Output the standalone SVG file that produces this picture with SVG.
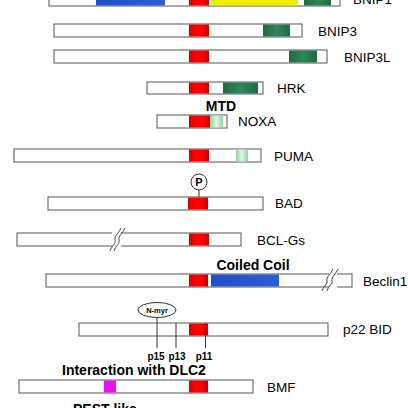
<svg xmlns="http://www.w3.org/2000/svg" width="408" height="408" viewBox="0 0 408 408">
<defs>
<linearGradient id="gRed" x1="0" x2="1" y1="0" y2="0"><stop offset="0" stop-color="#d40000"/><stop offset="0.3" stop-color="#ff0000"/><stop offset="0.7" stop-color="#ff0000"/><stop offset="1" stop-color="#c80000"/></linearGradient>
<linearGradient id="gGreen" x1="0" x2="1" y1="0" y2="0"><stop offset="0" stop-color="#1f6b44"/><stop offset="0.5" stop-color="#2f8558"/><stop offset="1" stop-color="#1f6b44"/></linearGradient>
<linearGradient id="gLight" x1="0" x2="1" y1="0" y2="0"><stop offset="0" stop-color="#8fd49f"/><stop offset="0.5" stop-color="#e2f7e4"/><stop offset="1" stop-color="#8fd49f"/></linearGradient>
<linearGradient id="gBlue" x1="0" x2="1" y1="0" y2="0"><stop offset="0" stop-color="#1e50c8"/><stop offset="1" stop-color="#2a5fd6"/></linearGradient>
</defs>
<style>
.bar{fill:#fff;stroke:#555;stroke-width:1}
.red{fill:url(#gRed)}
.grn{fill:url(#gGreen)}
.lgr{fill:url(#gLight)}
.blu{fill:url(#gBlue)}
.yel{fill:#eeee00}
.mag{fill:#ee10ee}
.lbl{font-family:"Liberation Sans",Arial,sans-serif;font-size:13.5px;fill:#000}
.bold{font-family:"Liberation Sans",Arial,sans-serif;font-weight:bold;font-size:14px;fill:#000}
.small{font-family:"Liberation Sans",Arial,sans-serif;font-weight:bold;font-size:10px;fill:#000}
.ln{stroke:#333;stroke-width:1;fill:none}
.brk{stroke:#444;stroke-width:1;fill:none}
</style>

<g id="BNIP1">
<rect class="bar" x="49" y="-7" width="291" height="13"/>
<rect class="blu" x="96" y="-6.5" width="69" height="12"/>
<rect class="red" x="189" y="-6.5" width="20" height="12"/>
<rect class="yel" x="211" y="-6.5" width="87" height="12"/>
<rect class="grn" x="304" y="-6.5" width="27" height="12"/>
<text class="lbl" x="353" y="4">BNIP1</text>
</g>

<g id="BNIP3">
<rect class="bar" x="54" y="24" width="248" height="13"/>
<rect class="red" x="189" y="24.5" width="20" height="12"/>
<rect class="grn" x="263" y="24.5" width="27" height="12"/>
<text class="lbl" x="318" y="35.5">BNIP3</text>
</g>

<g id="BNIP3L">
<rect class="bar" x="54" y="50" width="273" height="13"/>
<rect class="red" x="189" y="50.5" width="20" height="12"/>
<rect class="grn" x="289" y="50.5" width="28" height="12"/>
<text class="lbl" x="344" y="61.5">BNIP3L</text>
</g>

<g id="HRK">
<rect class="bar" x="147" y="82" width="116" height="12"/>
<rect class="red" x="189" y="82.5" width="20" height="11"/>
<rect class="grn" x="223" y="82.5" width="35" height="11"/>
<text class="lbl" x="277" y="92.5">HRK</text>
</g>

<g id="MTD">
<text class="bold" x="221" y="111" text-anchor="middle">MTD</text>
</g>

<g id="NOXA">
<rect class="bar" x="157" y="115" width="70" height="13"/>
<rect class="red" x="189" y="115.5" width="21" height="12"/>
<rect class="lgr" x="210" y="115.5" width="13" height="12"/>
<text class="lbl" x="238" y="126">NOXA</text>
</g>

<g id="PUMA">
<rect class="bar" x="14" y="149" width="247" height="13"/>
<rect class="red" x="189" y="149.5" width="20" height="12"/>
<rect class="lgr" x="236" y="149.5" width="12" height="12"/>
<text class="lbl" x="274" y="160.5">PUMA</text>
</g>

<g id="BAD">
<rect class="bar" x="48" y="197" width="215" height="13"/>
<rect class="red" x="188" y="197.5" width="20" height="12"/>
<line class="ln" x1="199" y1="190" x2="199" y2="197"/>
<circle cx="199" cy="182" r="8" fill="#fff" stroke="#333" stroke-width="1"/>
<text class="bold" x="199" y="186" text-anchor="middle" font-size="11px" style="font-size:11px">P</text>
<text class="lbl" x="275" y="207.5">BAD</text>
</g>

<g id="BCL-Gs">
<rect class="bar" x="17" y="233" width="224" height="13"/>
<rect class="red" x="189" y="233.5" width="20" height="12"/>
<rect x="112" y="232" width="9" height="15" fill="#fff"/>
<path class="brk" d="M110,251 C112,245 116,244 115,240 C114,236 119,233 121,228"/>
<path class="brk" d="M114,251 C116,245 120,244 119,240 C118,236 123,233 125,228"/>
<text class="lbl" x="257" y="244.5">BCL-Gs</text>
</g>

<g id="CoiledCoil">
<text class="bold" x="253" y="270" text-anchor="middle">Coiled Coil</text>
</g>

<g id="Beclin1">
<rect class="bar" x="46" y="274" width="306" height="13"/>
<rect class="red" x="189" y="274.5" width="19" height="12"/>
<rect class="blu" x="211" y="274.5" width="68" height="12"/>
<rect x="329" y="273" width="8" height="15" fill="#fff"/>
<path class="brk" d="M322,291 C324,285 328,284 327,281 C326,277 331,274 333,269"/>
<path class="brk" d="M327,291 C329,285 333,284 332,281 C331,277 336,274 338,269"/>
<text class="lbl" x="363" y="285.5">Beclin1</text>
</g>

<g id="p22BID">
<rect class="bar" x="79" y="323" width="249" height="13"/>
<rect class="red" x="189" y="323.5" width="19" height="12"/>
<ellipse cx="157" cy="310" rx="19" ry="7.5" fill="#fff" stroke="#333" stroke-width="1"/>
<text class="small" x="157" y="312.8" text-anchor="middle" style="font-size:7.5px">N-myr</text>
<text class="lbl" x="343" y="333.5">p22 BID</text>
</g>

<g id="connectors">
<line class="ln" x1="157" y1="317.5" x2="157" y2="348"/>
<line class="ln" x1="176" y1="323" x2="176" y2="348"/>
<line class="ln" x1="205.5" y1="323" x2="205.5" y2="348"/>
</g>

<g id="cleavage-labels">
<text class="small" x="156" y="360" text-anchor="middle">p15</text>
<text class="small" x="177" y="360" text-anchor="middle">p13</text>
<text class="small" x="204" y="360" text-anchor="middle">p11</text>
</g>

<g id="DLC2">
<text class="bold" x="62" y="375">Interaction with DLC2</text>
</g>

<g id="BMF">
<rect class="bar" x="19" y="380" width="234" height="13"/>
<rect class="mag" x="104" y="380.5" width="12" height="12"/>
<rect class="red" x="189" y="380.5" width="19" height="12"/>
<text class="lbl" x="267" y="391.5">BMF</text>
</g>

<g id="PEST">
<text class="bold" x="73" y="414">PEST-like</text>
</g>
</svg>
